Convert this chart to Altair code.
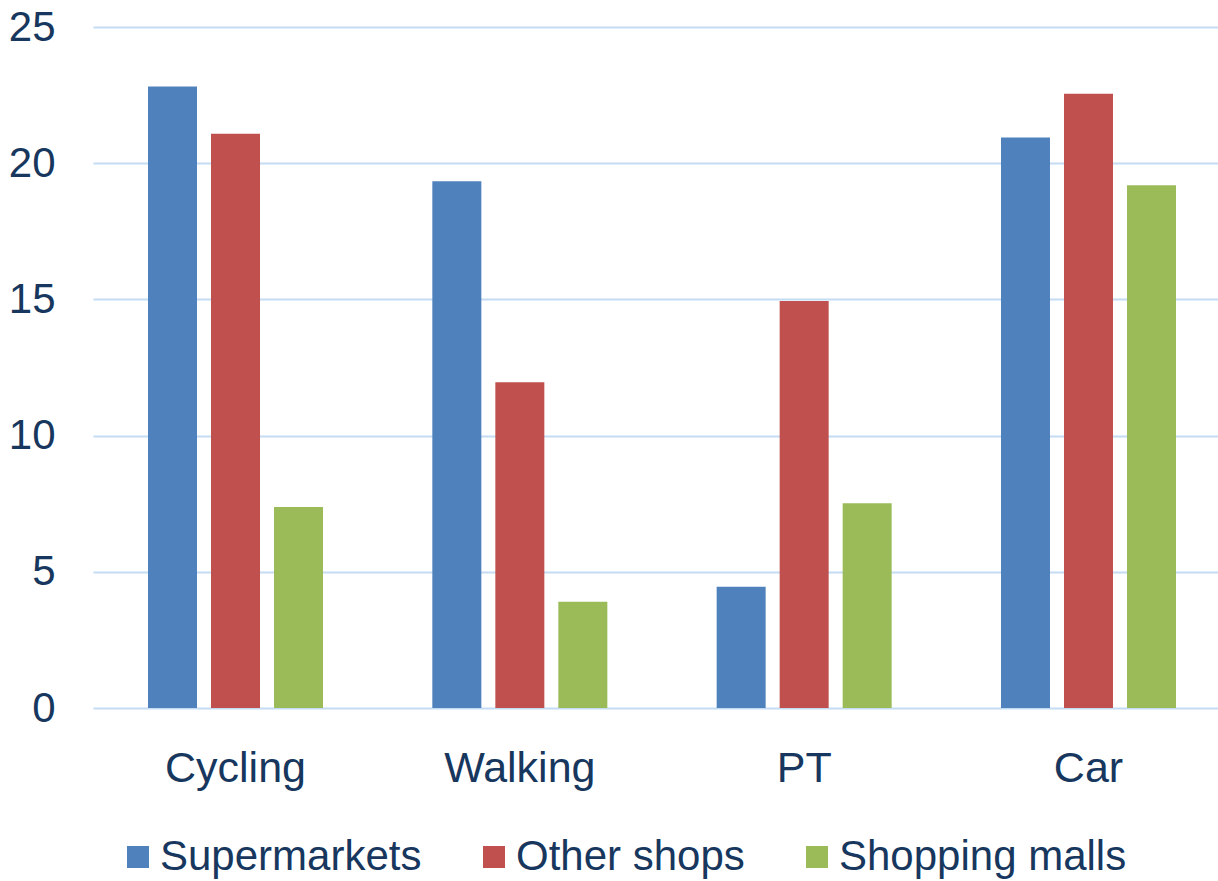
import altair as alt
import pandas as pd

categories = ["Cycling", "Walking", "PT", "Car"]
series = ["Supermarkets", "Other shops", "Shopping malls"]
supermarkets = [22.82, 19.34, 4.45, 20.94]
other_shops = [21.08, 11.96, 14.94, 22.55]
shopping_malls = [7.38, 3.90, 7.52, 19.19]
colors = ["#4F81BD", "#C0504D", "#9BBB59"]
y_ticks = [0, 5, 10, 15, 20, 25]

rows = []
for s, vals in zip(series, [supermarkets, other_shops, shopping_malls]):
    for c, v in zip(categories, vals):
        rows.append({"mode": c, "type": s, "value": v})
df = pd.DataFrame(rows)

text_color = "#17375E"
font = "Liberation Sans"

chart = alt.Chart(df).mark_bar().encode(
    x=alt.X("mode:N", sort=categories, title=None,
            scale=alt.Scale(paddingInner=0.3845, paddingOuter=0.1706, align=0.567),
            axis=alt.Axis(labelAngle=0, ticks=False, domain=False, labelPadding=39,
                          labelFontSize=43, labelColor=text_color, labelFont=font)),
    xOffset=alt.XOffset("type:N", sort=series,
                        scale=alt.Scale(paddingInner=0.2222, paddingOuter=0)),
    y=alt.Y("value:Q", title=None,
            scale=alt.Scale(domain=[0, 25], nice=False),
            axis=alt.Axis(values=y_ticks, ticks=False, domain=False, labelPadding=38,
                          labelFontSize=42, labelColor=text_color, labelFont=font,
                          grid=True, gridColor="#C3DCF4", gridWidth=2)),
    color=alt.Color("type:N", sort=series,
                    scale=alt.Scale(domain=series, range=colors),
                    legend=alt.Legend(title=None, orient="none", direction="horizontal",
                                      legendX=24, legendY=809, symbolType="square",
                                      symbolSize=484, symbolStrokeWidth=0,
                                      labelFontSize=42, labelColor=text_color, labelFont=font,
                                      labelOffset=1, columnPadding=51, padding=0,
                                      labelLimit=0)),
).properties(
    width=1125, height=681,
    background="white",
    autosize=alt.AutoSizeParams(type="none"),
    padding={"left": 93, "top": 27, "right": 0, "bottom": 173},
).configure_view(stroke=None)

chart.save("out.html", embed_options={"renderer": "svg", "actions": False})
